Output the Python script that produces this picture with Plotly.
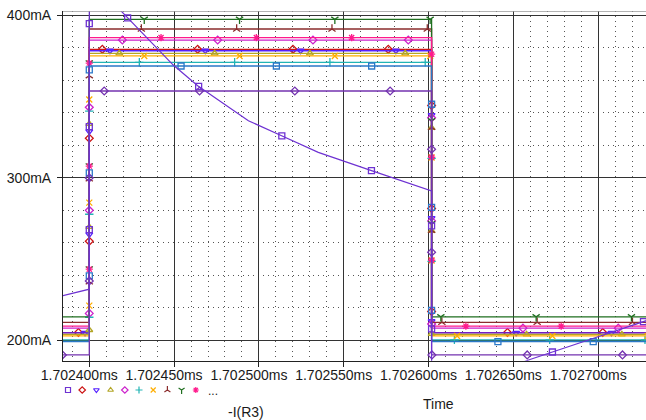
import numpy as np
import plotly.graph_objects as go

# ---------------- data ----------------
T_BASE_MS = 1.7024          # 1.702400 ms
X_RANGE_NS = [-15.5, 328.2]  # visible window, ns relative to 1.702400 ms
Y_RANGE_MA = [187.25, 402.7]
T_RISE_NS = 0.0
T_FALL_NS = 201.8

x_tick_labels = ["1.702400ms", "1.702450ms", "1.702500ms", "1.702550ms",
                 "1.702600ms", "1.702650ms", "1.702700ms"]
y_tick_labels = ["200mA", "300mA", "400mA"]

# step-like sweep traces: level before/after the pulse and during the pulse (mA)
step_names = ["r2", "r3", "r4", "r5", "r6", "r7", "r8", "r9", "r10", "r11", "r12"]
step_low_mA = [204.6, 204.4, 203.5, 207.3, 200.1, 202.5, 210.9, 214.3, 208.5, 199.0, 190.8]
step_high_mA = [379.1, 378.2, 376.6, 384.8, 371.1, 375.0, 391.6, 397.6, 386.3, 368.8, 353.4]

# decaying trace (first of sweep)
decay_t_ns = [-20.0, 0.0, 0.0, 19.1, 49.5, 63.9, 93.8, 112.4, 135.0, 165.5, 201.8,
              201.8, 259.8, 296.0, 328.2, 340.0]
decay_mA = [226.1, 231.3, 423.0, 402.3, 369.4, 356.7, 335.1, 326.3, 315.6, 304.7, 291.8,
            165.0, 188.0, 200.6, 211.9, 216.0]

# ---------------- styles ----------------
step_colors = ["#cc1414", "#5522ff", "#b3a627", "#cc22cc", "#22b5b5", "#ffae00",
               "#8b2c2c", "#1f6f1f", "#ff1a8c", "#2a78c8", "#7433b0"]
step_symbols = ["diamond-open", "triangle-down-open", "triangle-up-open", "diamond-open",
                "cross-thin-open", "x-thin-open", "y-up-open", "y-down-open",
                "asterisk-open", "square-open", "diamond-open"]
# marker phase anchors (ns) on the pulse top
step_anchor_ns = [7.7, 12.2, 17.7, 19.5, 29.5, 32.4, 30.7, 32.4, 42.3, 54.1, 8.8]
decay_color = "#6e32d2"
decay_anchor_ns = 22.6

PLOT_W = 583.0
PLOT_H = 349.7
Y_WEIGHT = 0.925
MARK_SPACING = 95.3


def to_px(t, v):
    px = (np.asarray(t) - X_RANGE_NS[0]) * PLOT_W / (X_RANGE_NS[1] - X_RANGE_NS[0])
    py = (np.asarray(v) - Y_RANGE_MA[0]) * PLOT_H / (Y_RANGE_MA[1] - Y_RANGE_MA[0]) * Y_WEIGHT
    return px, py


def marker_points(t, v, t_anchor):
    t = np.asarray(t, float)
    v = np.asarray(v, float)
    px, py = to_px(t, v)
    seg = np.hypot(np.diff(px), np.diff(py))
    s = np.concatenate([[0], np.cumsum(seg)])
    s_anchor = 0.0
    for i in range(len(t) - 1):
        if t[i + 1] > t[i] and t[i] <= t_anchor <= t[i + 1]:
            f = (t_anchor - t[i]) / (t[i + 1] - t[i])
            s_anchor = s[i] + f * seg[i]
            break
    k = -int(np.floor(s_anchor / MARK_SPACING))
    ms = []
    while True:
        sk = s_anchor + k * MARK_SPACING
        if sk > s[-1]:
            break
        if sk >= 0:
            ms.append(sk)
        k += 1
    mt, mv = [], []
    for sk in ms:
        i = min(np.searchsorted(s, sk, side="right") - 1, len(seg) - 1)
        f = 0 if seg[i] == 0 else (sk - s[i]) / seg[i]
        mt.append(t[i] + f * (t[i + 1] - t[i]))
        mv.append(v[i] + f * (v[i + 1] - v[i]))
    return np.array(mt), np.array(mv)


def ns_to_ms(t):
    return T_BASE_MS + np.asarray(t, float) * 1e-6


fig = go.Figure()

for name, lo, hi, col, sym, anc in zip(step_names, step_low_mA, step_high_mA,
                                       step_colors, step_symbols, step_anchor_ns):
    tt = [X_RANGE_NS[0] - 5, T_RISE_NS, T_RISE_NS, T_FALL_NS, T_FALL_NS, X_RANGE_NS[1] + 5]
    vv = [lo, lo, hi, hi, lo, lo]
    fig.add_trace(go.Scatter(x=ns_to_ms(tt), y=vv, mode="lines",
                             line=dict(color=col, width=1.3), name=name,
                             showlegend=False, hoverinfo="skip"))
    mt, mv = marker_points(tt, vv, anc)
    fig.add_trace(go.Scatter(x=ns_to_ms(mt), y=mv, mode="markers",
                             marker=dict(symbol=sym, size=6, color=col,
                                         line=dict(color=col, width=1.3)),
                             showlegend=False, hoverinfo="skip"))

fig.add_trace(go.Scatter(x=ns_to_ms(decay_t_ns), y=decay_mA, mode="lines",
                         line=dict(color=decay_color, width=1.2), name="r1",
                         showlegend=False, hoverinfo="skip"))
mt, mv = marker_points(decay_t_ns, decay_mA, decay_anchor_ns)
fig.add_trace(go.Scatter(x=ns_to_ms(mt), y=mv, mode="markers",
                         marker=dict(symbol="square-open", size=6, color=decay_color,
                                     line=dict(color=decay_color, width=1.3)),
                         showlegend=False, hoverinfo="skip"))

# legend symbol row (pixel-coordinate overlay axes)
legend_colors = [decay_color] + step_colors[:9]
legend_symbols = ["square-open"] + step_symbols[:9]
lx = [68 + i * 14.2 for i in range(len(legend_colors))]
ly = [390] * len(legend_colors)
fig.add_trace(go.Scatter(x=lx, y=ly, xaxis="x2", yaxis="y2", mode="markers",
                         marker=dict(symbol=legend_symbols, size=5, color=legend_colors,
                                     line=dict(color=legend_colors, width=1.2)),
                         showlegend=False, hoverinfo="skip", cliponaxis=False))

FONT = "Liberation Sans, Arial, sans-serif"
x_tickvals = [float(s[:-2]) for s in x_tick_labels]
y_tickvals = [float(s[:-2]) for s in y_tick_labels]

fig.update_layout(
    width=646, height=420,
    margin=dict(l=63, r=0, t=11, b=0, autoexpand=False),
    paper_bgcolor="white", plot_bgcolor="rgba(0,0,0,0)",
    font=dict(family=FONT, size=14, color="#1a1a1a"),
    showlegend=False,
    xaxis=dict(range=list(ns_to_ms(X_RANGE_NS)), tickmode="array", tickvals=x_tickvals,
               ticktext=x_tick_labels, showgrid=True, gridcolor="#333333", gridwidth=1,
               showline=True, linecolor="#222222", linewidth=1, ticks="outside",
               ticklen=5, tickcolor="#222222", zeroline=False, automargin=False,
               ticklabelshift=-10, ticklabelstandoff=-4,
               minor=dict(tickmode="linear", tick0=T_BASE_MS, dtick=1e-5, showgrid=True,
                          griddash="1px,4px", gridcolor="#555555", gridwidth=1, ticks=""),
               anchor="y"),
    yaxis=dict(range=Y_RANGE_MA, domain=[59.3 / 409.0, 1], tickmode="array",
               tickvals=y_tickvals, ticktext=y_tick_labels, showgrid=True,
               gridcolor="#333333", gridwidth=1, showline=True, linecolor="#222222",
               linewidth=1, ticks="outside", ticklen=5, tickcolor="#222222",
               zeroline=False, automargin=False, ticklabelstandoff=3,
               minor=dict(tickmode="linear", tick0=0, dtick=20, showgrid=True,
                          griddash="1px,4px", gridcolor="#555555", gridwidth=1, ticks=""),
               anchor="x"),
    xaxis2=dict(domain=[0, 1], range=[63, 646], visible=False, anchor="y2",
                fixedrange=True, automargin=False),
    yaxis2=dict(domain=[0, 1], range=[420, 11], visible=False, anchor="x2",
                fixedrange=True, automargin=False),
    shapes=[dict(type="line", xref="paper", yref="y", x0=0, x1=1,
                 y0=Y_RANGE_MA[1], y1=Y_RANGE_MA[1], line=dict(color="#9a9a9a", width=1.5))],
    annotations=[
        dict(text="...", x=213, y=391, xref="x2", yref="y2", showarrow=False,
             font=dict(size=12, color="#1a1a1a")),
        dict(text="-I(R3)", x=246, y=412, xref="x2", yref="y2", showarrow=False,
             font=dict(size=14, color="#1a1a1a")),
        dict(text="Time", x=438, y=404, xref="x2", yref="y2", showarrow=False,
             font=dict(size=14, color="#1a1a1a")),
    ],
)

fig.write_html("out.html", config={"displayModeBar": False},
               post_script="document.body.style.margin='0';"
                           "document.body.style.overflow='hidden';"
                           "document.documentElement.style.overflow='hidden';")
